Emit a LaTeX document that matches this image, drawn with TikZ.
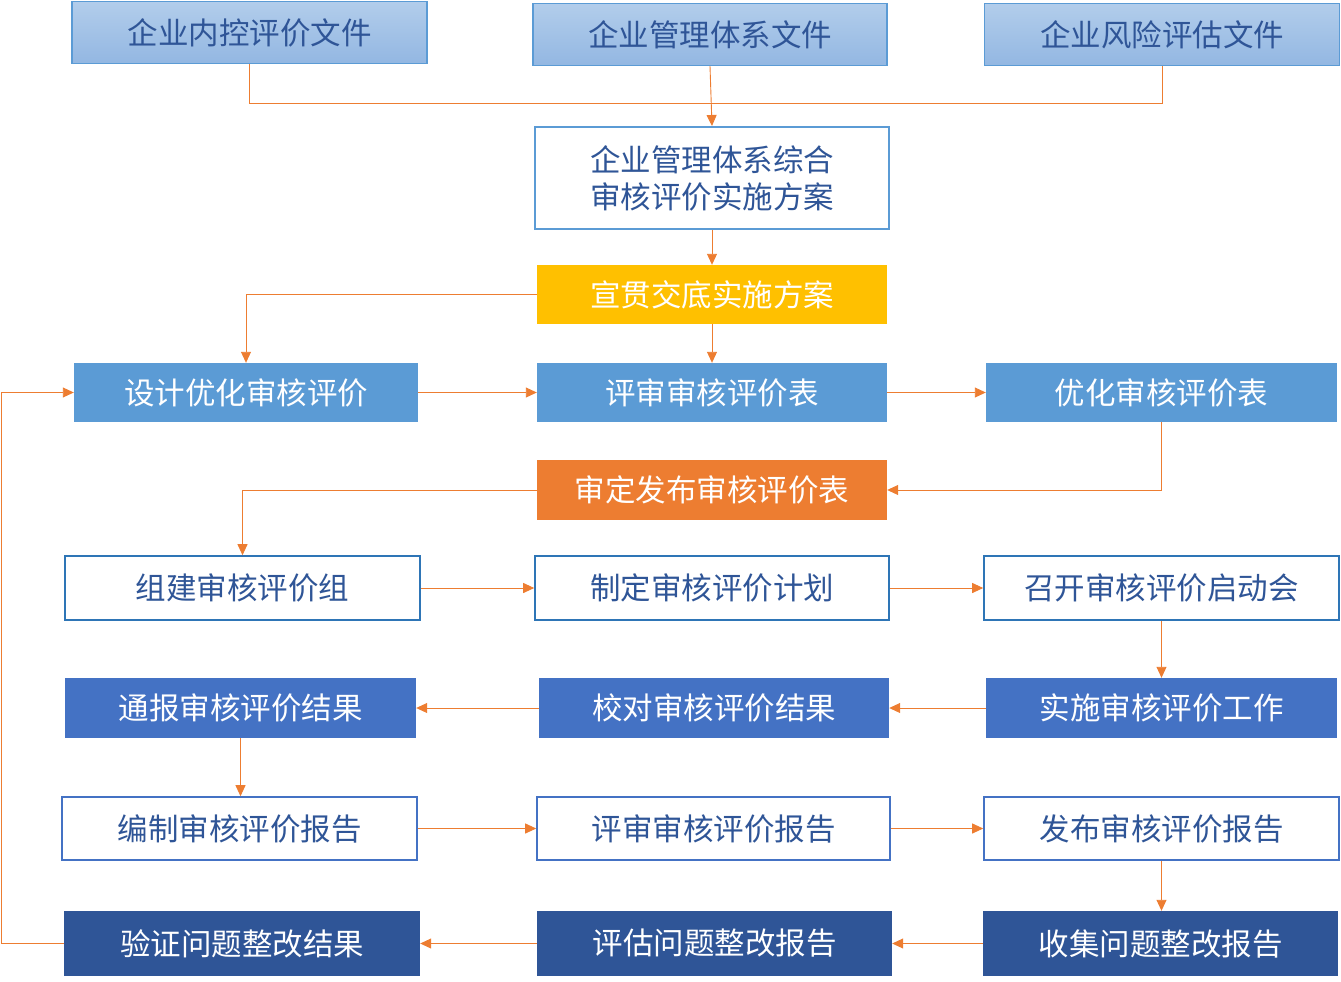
\documentclass[tikz,border=0pt]{standalone}
\usepackage{fontspec}
\setmainfont{Noto Sans CJK SC}
\usetikzlibrary{arrows.meta}

\definecolor{filelight}{HTML}{B2CDEB}
\definecolor{filedark}{HTML}{93B7E2}
\definecolor{lineblue}{HTML}{5B9BD5}
\definecolor{midblue}{HTML}{4472C4}
\definecolor{deepblue}{HTML}{2F5597}
\definecolor{edgeblue}{HTML}{2E75B6}
\definecolor{textblue}{HTML}{2F5597}
\definecolor{flowline}{HTML}{ED7D31}
\definecolor{goldfill}{HTML}{FFC000}

\begin{document}
\begin{tikzpicture}[x=1pt, y=-1pt,
    box/.style={rectangle, minimum width=352pt, minimum height=62pt, inner sep=0pt,
      font=\fontsize{30.5}{37}\selectfont, align=center},
    filebox/.style={box, draw=lineblue, line width=1.2pt, top color=filelight, bottom color=filedark, text=textblue},
    planbox/.style={box, draw=lineblue, line width=2pt, fill=white, text=textblue},
    blankbox/.style={box, draw=#1, line width=1.6pt, fill=white, text=textblue},
    solidbox/.style={box, fill=#1, text=white},
    link/.style={flowline, line width=0.9pt},
    arrow/.style={link, -{Triangle[length=11pt,width=10pt]}}]
  \useasboundingbox (0,0) rectangle (1341,982);

  % three input files
  \node [filebox, minimum width=355pt] (intctl) at (249.5,32.5) {企业内控评价文件};
  \node [filebox, minimum width=354pt] (mgmtdoc) at (710,34.5) {企业管理体系文件};
  \node [filebox, minimum width=355pt] (riskdoc) at (1162,34.5) {企业风险评估文件};

  \node [planbox, minimum width=354pt, minimum height=102pt] (plan) at (712,178) {企业管理体系综合\\审核评价实施方案};
  \node [solidbox=goldfill, minimum width=350pt, minimum height=59pt] (brief) at (712,294.5) {宣贯交底实施方案};

  \node [solidbox=lineblue, minimum width=344pt, minimum height=59pt] (design) at (246,392.5) {设计优化审核评价};
  \node [solidbox=lineblue, minimum width=350pt, minimum height=59pt] (review) at (712,392.5) {评审审核评价表};
  \node [solidbox=lineblue, minimum width=351pt, minimum height=59pt] (optim) at (1161.5,392.5) {优化审核评价表};

  \node [solidbox=flowline, minimum width=350pt, minimum height=60pt] (publish) at (712,490) {审定发布审核评价表};

  \node [blankbox=edgeblue, minimum width=355pt, minimum height=64pt] (team) at (242.5,588) {组建审核评价组};
  \node [blankbox=edgeblue, minimum width=354pt, minimum height=64pt] (sched) at (712,588) {制定审核评价计划};
  \node [blankbox=edgeblue, minimum width=355pt, minimum height=64pt] (kickoff) at (1161.5,588) {召开审核评价启动会};

  \node [solidbox=midblue, minimum width=351pt, minimum height=60pt] (report) at (240.5,708) {通报审核评价结果};
  \node [solidbox=midblue, minimum width=350pt, minimum height=60pt] (check) at (714,708) {校对审核评价结果};
  \node [solidbox=midblue, minimum width=351pt, minimum height=60pt] (work) at (1161.5,708) {实施审核评价工作};

  \node [blankbox=midblue, minimum width=355pt, minimum height=63pt] (draft) at (239.5,828.5) {编制审核评价报告};
  \node [blankbox=midblue, minimum width=353pt, minimum height=63pt] (revrep) at (713.5,828.5) {评审审核评价报告};
  \node [blankbox=midblue, minimum width=355pt, minimum height=63pt] (issue) at (1161.5,828.5) {发布审核评价报告};

  \node [solidbox=deepblue, minimum width=356pt, minimum height=65pt] (verify) at (242,943.5) {验证问题整改结果};
  \node [solidbox=deepblue, minimum width=355pt, minimum height=65pt] (assess) at (714.5,943.5) {评估问题整改报告};
  \node [solidbox=deepblue, minimum width=355pt, minimum height=65pt] (collect) at (1160.5,943.5) {收集问题整改报告};

  % connectors
  \draw [link] (intctl.south) -- ++(0,39) -| (riskdoc.south);
  \draw [arrow] (mgmtdoc.south) -- (plan.north);
  \draw [arrow] (plan.south) -- (brief.north);
  \draw [arrow] (brief.south) -- (review.north);
  \draw [arrow] (brief.west) -| (design.north);

  \draw [arrow] (design.east) -- (review.west);
  \draw [arrow] (review.east) -- (optim.west);
  \draw [arrow] (optim.south) |- (publish.east);
  \draw [arrow] (publish.west) -| (team.north);

  \draw [arrow] (team.east) -- (sched.west);
  \draw [arrow] (sched.east) -- (kickoff.west);
  \draw [arrow] (kickoff.south) -- (work.north);

  \draw [arrow] (work.west) -- (check.east);
  \draw [arrow] (check.west) -- (report.east);
  \draw [arrow] (report.south) -- (report.south |- draft.north);

  \draw [arrow] (draft.east) -- (revrep.west);
  \draw [arrow] (revrep.east) -- (issue.west);
  \draw [arrow] (issue.south) -- (issue.south |- collect.north);

  \draw [arrow] (collect.west) -- (assess.east);
  \draw [arrow] (assess.west) -- (verify.east);
  \draw [arrow] (verify.west) -- ++(-62,0) |- (design.west);
\end{tikzpicture}
\end{document}
